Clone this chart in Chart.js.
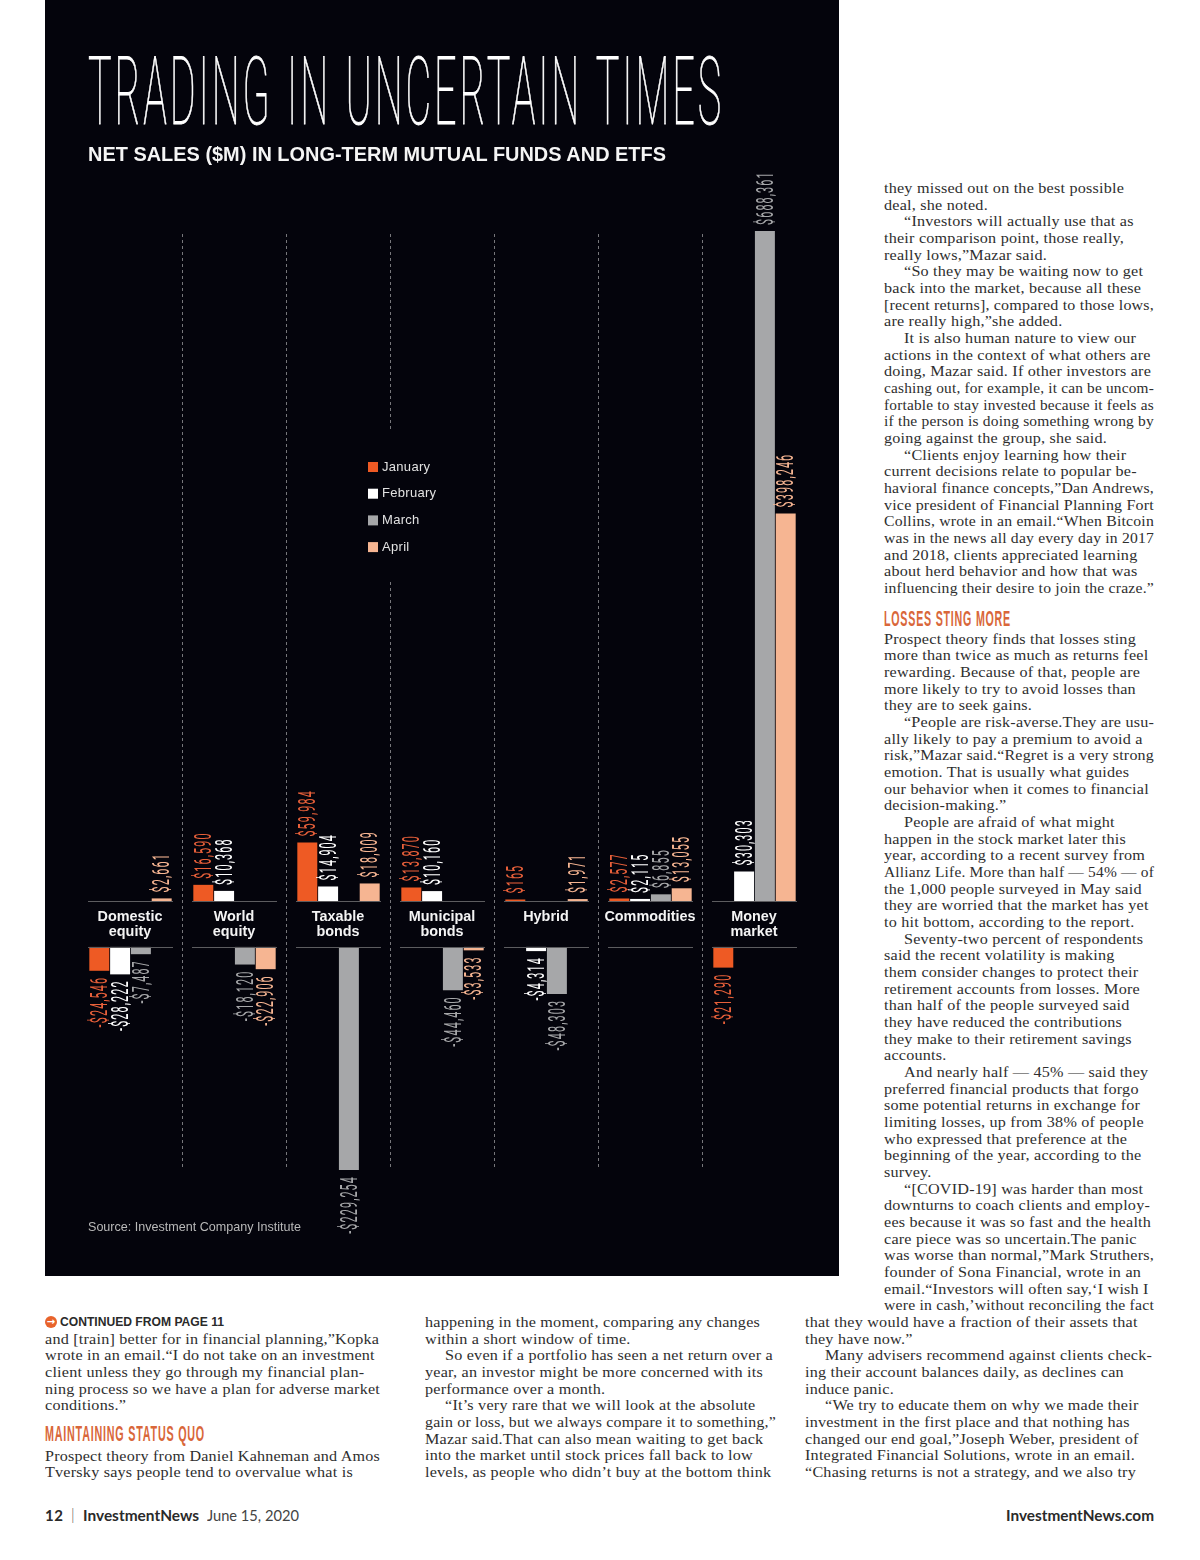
<!DOCTYPE html>
<html lang="en">
  <head>
    <meta charset="UTF-8" />
    <title>Trading in uncertain times</title>
    <script src="https://cdn.jsdelivr.net/npm/chart.js"></script>
    <style>
      html, body { margin: 0; padding: 0; background: #fff; }
      #page { position: relative; width: 1200px; height: 1560px; overflow: hidden; background: #fff; }
      #panel { position: absolute; left: 45px; top: 0; width: 794px; height: 1276px; background: #04040c; }
      #myChart { position: absolute; left: 45px; top: 0; }
      .t { position: absolute; white-space: pre; transform-origin: left center; }
      .body { font: 15.4px/17px "Liberation Serif", serif; color: #2e2e2e; letter-spacing: 0.2px; transform: scaleX(1.05); }
      .head { font: 700 22px/24px "Liberation Sans", sans-serif; color: #d9673a; letter-spacing: 1.6px; }
    </style>
  </head>
  <body>
    <div id="page">
      <div id="panel"></div>
      <canvas id="myChart" width="794" height="1276"></canvas>
    </div>
    <script>
      // values in $M
      const categories = ["Domestic equity", "World equity", "Taxable bonds", "Municipal bonds", "Hybrid", "Commodities", "Money market"];
      const january = [-24546, 16590, 59984, 13870, 165, 2577, -21290];
      const february = [-28222, 10368, 14904, 10160, -4314, 2115, 30303];
      const march = [-7487, -18120, -229254, -44460, -48303, 6855, 688361];
      const april = [2661, -22906, 18009, -3533, 1971, 13055, 398246];

      const months = ["January", "February", "March", "April"];
      const monthValues = [january, february, march, april];
      const monthColors = ["#ee5a24", "#ffffff", "#a6a7a9", "#f6b592"];
      const labelColors = ["#e8603a", "#ffffff", "#a6a7a9", "#f6b592"];

      // the positive and negative bars hang off two baselines with a gap between
      const datasets = [];
      monthValues.forEach((values, i) => {
        datasets.push({
          label: months[i],
          data: values.map((v) => (v > 0 ? v : null)),
          backgroundColor: monthColors[i],
          stack: months[i],
          yAxisID: "yPos",
          clip: false,
          minBarLength: 1.5,
        });
        datasets.push({
          label: months[i],
          data: values.map((v) => (v < 0 ? v : null)),
          backgroundColor: monthColors[i],
          stack: months[i],
          yAxisID: "yNeg",
          clip: false,
        });
      });

      const formatValue = (v) => (v < 0 ? "-$" : "$") + Math.abs(v).toLocaleString("en-US");

      const decorations = {
        id: "decorations",
        afterDatasetsDraw(chart) {
          const ctx = chart.ctx;
          const x = chart.scales.x;
          const y0 = chart.scales.yPos.getPixelForValue(0);
          const y1 = chart.scales.yNeg.getPixelForValue(0);

          // baselines + category names
          categories.forEach((name, i) => {
            const cx = x.getPixelForTick(i) - 0.5;
            ctx.strokeStyle = "#5c5c5f";
            ctx.lineWidth = 1;
            [y0, y1].forEach((y) => {
              ctx.beginPath();
              ctx.moveTo(cx - 42, Math.round(y) + 0.5);
              ctx.lineTo(cx + 43, Math.round(y) + 0.5);
              ctx.stroke();
            });
            ctx.fillStyle = "#f4f4f4";
            ctx.font = "700 14.4px 'Liberation Sans'";
            ctx.textAlign = "center";
            ctx.textBaseline = "middle";
            name.split(" ").forEach((line, j) => ctx.fillText(line, cx, y0 + 16.5 + j * 15));
          });

          // value labels, rotated and squeezed
          datasets.forEach((ds, d) => {
            const meta = chart.getDatasetMeta(d);
            const month = Math.floor(d / 2);
            ds.data.forEach((v, i) => {
              if (v === null) return;
              const bar = meta.data[i];
              ctx.save();
              ctx.translate(bar.x, bar.y + (v > 0 ? -6 : 6));
              ctx.rotate(-Math.PI / 2);
              ctx.scale(0.47, 1);
              ctx.font = "400 23px Roboto";
              ctx.letterSpacing = "2.4px";
              ctx.textAlign = v > 0 ? "left" : "right";
              ctx.textBaseline = "middle";
              ctx.fillStyle = labelColors[month];
              ctx.fillText(formatValue(v), 0, 2);
              ctx.restore();
            });
          });

          // legend sits inside the plot, the dashed line stops around it
          ctx.fillStyle = "#04040c";
          ctx.fillRect(385 - 45, 431, 10, 150);
          months.forEach((m, i) => {
            const y = 467 + i * 26.7;
            ctx.fillStyle = monthColors[i];
            ctx.fillRect(368 - 45, y - 5, 10, 10);
            ctx.fillStyle = "#e2e2e2";
            ctx.font = "13px 'Liberation Sans'";
            ctx.letterSpacing = "0.3px";
            ctx.textAlign = "left";
            ctx.textBaseline = "middle";
            ctx.fillText(m, 382 - 45, y);
            ctx.letterSpacing = "0px";
          });
        },
      };

      new Chart(document.getElementById("myChart"), {
        type: "bar",
        data: { labels: categories, datasets: datasets },
        plugins: [decorations],
        options: {
          responsive: false,
          animation: false,
          barPercentage: 0.96,
          categoryPercentage: 0.8,
          layout: { padding: { left: 33.5, right: 32.5, top: 234, bottom: 106 } },
          plugins: { legend: { display: false }, tooltip: { enabled: false } },
          scales: {
            x: {
              stacked: true,
              ticks: { display: false },
              grid: {
                drawTicks: false,
                lineWidth: 1,
                // the last line has no tick context, so no index
                color: (c) => (c.index === undefined || c.index === 0 ? "transparent" : "#77777b"),
              },
              border: { display: false, dash: [3, 3] },
            },
            yPos: { display: false, stacked: true, min: -276400, max: 685300 },
            yNeg: { display: false, stacked: true, min: -229254, max: 732600 },
          },
        },
      });

      // ---- page text around the chart ----
      const page = document.getElementById("page");

      function addText(text, x, y, css, cls, fitWidth) {
        const el = document.createElement("div");
        el.className = "t " + (cls || "");
        el.textContent = text;
        el.style.cssText = `left:${x}px;top:${y}px;` + (css || "");
        page.appendChild(el);
        if (fitWidth) {
          el.style.transform = `scaleX(${fitWidth / el.getBoundingClientRect().width})`;
        }
        return el;
      }

      // maxRight: lines that run past the column edge get squeezed back to it
      const bodyLines = (lines, x, centre, maxRight) => {
        lines.forEach((line, i) => {
          const left = x + (line.startsWith("\t") ? 20 : 0);
          const el = addText(line.trim(), left, centre + i * 16.67 - 9, "", "body");
          const w = el.getBoundingClientRect().width;
          if (left + w > maxRight) {
            el.style.transform = `scaleX(${(1.05 * (maxRight - left)) / w})`;
          }
        });
      };

      addText("TRADING IN UNCERTAIN TIMES", 88, 44, "font:100 95px/96px Roboto;color:#fff;letter-spacing:7px;word-spacing:5px;-webkit-text-stroke:0.9px #fff;", "", 636);
      addText("NET SALES ($M) IN LONG-TERM MUTUAL FUNDS AND ETFS", 88, 142, "font:700 20px/24px 'Liberation Sans';color:#f5f5f5;", "", 578);
      addText("Source: Investment Company Institute", 88, 1219, "font:13px/16px 'Liberation Sans';color:#b9b9b9;", "", 213);

      bodyLines([
        "they missed out on the best possible",
        "deal, she noted.",
        "\t“Investors will actually use that as",
        "their comparison point, those really,",
        "really lows,”Mazar said.",
        "\t“So they may be waiting now to get",
        "back into the market, because all these",
        "[recent returns], compared to those lows,",
        "are really high,”she added.",
        "\tIt is also human nature to view our",
        "actions in the context of what others are",
        "doing, Mazar said. If other investors are",
        "cashing out, for example, it can be uncom-",
        "fortable to stay invested because it feels as",
        "if the person is doing something wrong by",
        "going against the group, she said.",
        "\t“Clients enjoy learning how their",
        "current decisions relate to popular be-",
        "havioral finance concepts,”Dan Andrews,",
        "vice president of Financial Planning Fort",
        "Collins, wrote in an email.“When Bitcoin",
        "was in the news all day every day in 2017",
        "and 2018, clients appreciated learning",
        "about herd behavior and how that was",
        "influencing their desire to join the craze.”",
      ], 884, 188, 1154);

      addText("LOSSES STING MORE", 884, 607, "", "head", 127);

      bodyLines([
        "Prospect theory finds that losses sting",
        "more than twice as much as returns feel",
        "rewarding. Because of that, people are",
        "more likely to try to avoid losses than",
        "they are to seek gains.",
        "\t“People are risk-averse.They are usu-",
        "ally likely to pay a premium to avoid a",
        "risk,”Mazar said.“Regret is a very strong",
        "emotion. That is usually what guides",
        "our behavior when it comes to financial",
        "decision-making.”",
        "\tPeople are afraid of what might",
        "happen in the stock market later this",
        "year, according to a recent survey from",
        "Allianz Life. More than half — 54% — of",
        "the 1,000 people surveyed in May said",
        "they are worried that the market has yet",
        "to hit bottom, according to the report.",
        "\tSeventy-two percent of respondents",
        "said the recent volatility is making",
        "them consider changes to protect their",
        "retirement accounts from losses. More",
        "than half of the people surveyed said",
        "they have reduced the contributions",
        "they make to their retirement savings",
        "accounts.",
        "\tAnd nearly half — 45% — said they",
        "preferred financial products that forgo",
        "some potential returns in exchange for",
        "limiting losses, up from 38% of people",
        "who expressed that preference at the",
        "beginning of the year, according to the",
        "survey.",
        "\t“[COVID-19] was harder than most",
        "downturns to coach clients and employ-",
        "ees because it was so fast and the health",
        "care piece was so uncertain.The panic",
        "was worse than normal,”Mark Struthers,",
        "founder of Sona Financial, wrote in an",
        "email.“Investors will often say,‘I wish I",
        "were in cash,’without reconciling the fact",
      ], 884, 638.5, 1154);

      // bottom columns
      addText("→", 45, 1316, "width:12px;height:12px;border-radius:6px;background:#e8632b;color:#fff;font:700 10px/12px 'DejaVu Sans';text-align:center;");
      addText("CONTINUED FROM PAGE 11", 60, 1314, "font:700 12px/16px 'Liberation Sans';color:#2a2a2a;", "", 164);

      bodyLines([
        "and [train] better for in financial planning,”Kopka",
        "wrote in an email.“I do not take on an investment",
        "client unless they go through my financial plan-",
        "ning process so we have a plan for adverse market",
        "conditions.”",
      ], 45, 1338.5, 380);

      addText("MAINTAINING STATUS QUO", 45, 1422, "", "head", 160);

      bodyLines([
        "Prospect theory from Daniel Kahneman and Amos",
        "Tversky says people tend to overvalue what is",
      ], 45, 1455.5, 380);

      bodyLines([
        "happening in the moment, comparing any changes",
        "within a short window of time.",
        "\tSo even if a portfolio has seen a net return over a",
        "year, an investor might be more concerned with its",
        "performance over a month.",
        "\t“It’s very rare that we will look at the absolute",
        "gain or loss, but we always compare it to something,”",
        "Mazar said.That can also mean waiting to get back",
        "into the market until stock prices fall back to low",
        "levels, as people who didn’t buy at the bottom think",
      ], 425, 1322, 776);

      bodyLines([
        "that they would have a fraction of their assets that",
        "they have now.”",
        "\tMany advisers recommend against clients check-",
        "ing their account balances daily, as declines can",
        "induce panic.",
        "\t“We try to educate them on why we made their",
        "investment in the first place and that nothing has",
        "changed our end goal,”Joseph Weber, president of",
        "Integrated Financial Solutions, wrote in an email.",
        "“Chasing returns is not a strategy, and we also try",
      ], 805, 1322, 1152);

      // footer
      addText("12", 45, 1506, "font:700 15px/18px Lato;color:#2a2a2a;letter-spacing:.5px;");
      addText("|", 71, 1505, "font:300 15px/18px Lato;color:#555;");
      addText("InvestmentNews", 83, 1506, "font:700 15px/18px Lato;color:#2a2a2a;", "", 116);
      addText("June 15, 2020", 207, 1506, "font:400 15px/18px Lato;color:#444;", "", 92);
      addText("InvestmentNews.com", 1006, 1506, "font:700 15px/18px Lato;color:#2a2a2a;", "", 148);
    </script>
  </body>
</html>
